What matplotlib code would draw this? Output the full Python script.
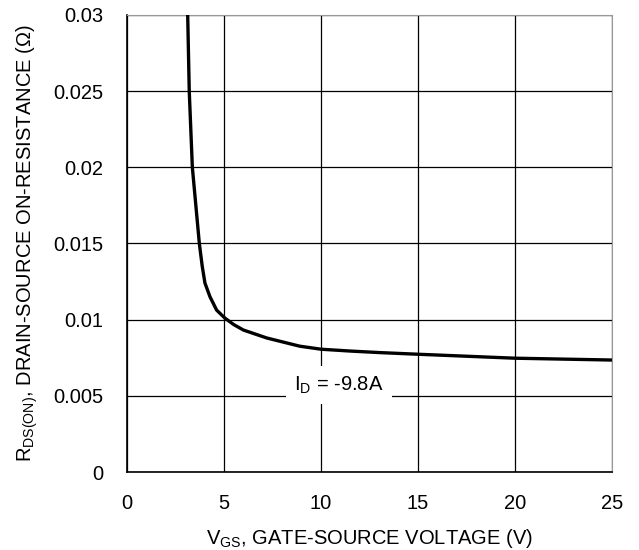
import matplotlib.pyplot as plt
import matplotlib as mpl

mpl.rc('font', family='Liberation Sans', size=14.5)
mpl.rcParams['mathtext.fontset'] = 'custom'
mpl.rcParams['mathtext.rm'] = 'Liberation Sans'

vgs = [3.13, 3.21, 3.37, 3.55, 3.73, 3.88, 4.02, 4.28, 4.62, 5.05, 5.5,
       6.0, 7.2, 8.9, 10.0, 11.5, 13.0, 15.0, 20.0, 25.0]
rds = [0.030, 0.025, 0.020, 0.0175, 0.015, 0.0135, 0.0124, 0.0115, 0.01063,
       0.0101, 0.00968, 0.00932, 0.0088, 0.00826, 0.00806, 0.00794, 0.00784,
       0.00773, 0.00747, 0.00735]

xticks = [0, 5, 10, 15, 20, 25]
yticks = [0, 0.005, 0.01, 0.015, 0.02, 0.025, 0.03]
ytick_labels = ['0', '0.005', '0.01', '0.015', '0.02', '0.025', '0.03']

fig = plt.figure(figsize=(6.39, 5.5), dpi=100)
ax = fig.add_axes([0.1987, 0.1418, 0.759, 0.831])

ax.plot(vgs, rds, color='k', lw=2.4, solid_joinstyle='round', zorder=3)
ax.set_xlim(0, 25)
ax.set_ylim(0, 0.03)
ax.set_xticks(xticks)
ax.set_yticks(yticks)
ax.set_yticklabels(ytick_labels)
ax.grid(True, color='k', lw=0.9)
ax.tick_params(length=0)
ax.tick_params(axis='y', pad=17)
ax.tick_params(axis='x', pad=16)
for s in ['top', 'right']:
    ax.spines[s].set_color('#999999')
for s in ['left', 'bottom']:
    ax.spines[s].set_color('k')
    ax.spines[s].set_linewidth(1.2)

ax.text(10.93, 0.0057, r'I$_{\mathregular{D}}$ = -9.8A', ha='center', va='center',
        zorder=4, bbox=dict(facecolor='white', edgecolor='none', pad=6))

ax.set_xlabel(r'V$_{\mathregular{GS}}$, GATE-SOURCE VOLTAGE (V)')
ax.set_ylabel(r'R$_{\mathregular{DS(ON)}}$, DRAIN-SOURCE ON-RESISTANCE ($\Omega$)')
ax.xaxis.set_label_coords(0.5, -0.12)
ax.yaxis.set_label_coords(-0.18, 0.5)

fig.savefig('out.png', dpi=100)
